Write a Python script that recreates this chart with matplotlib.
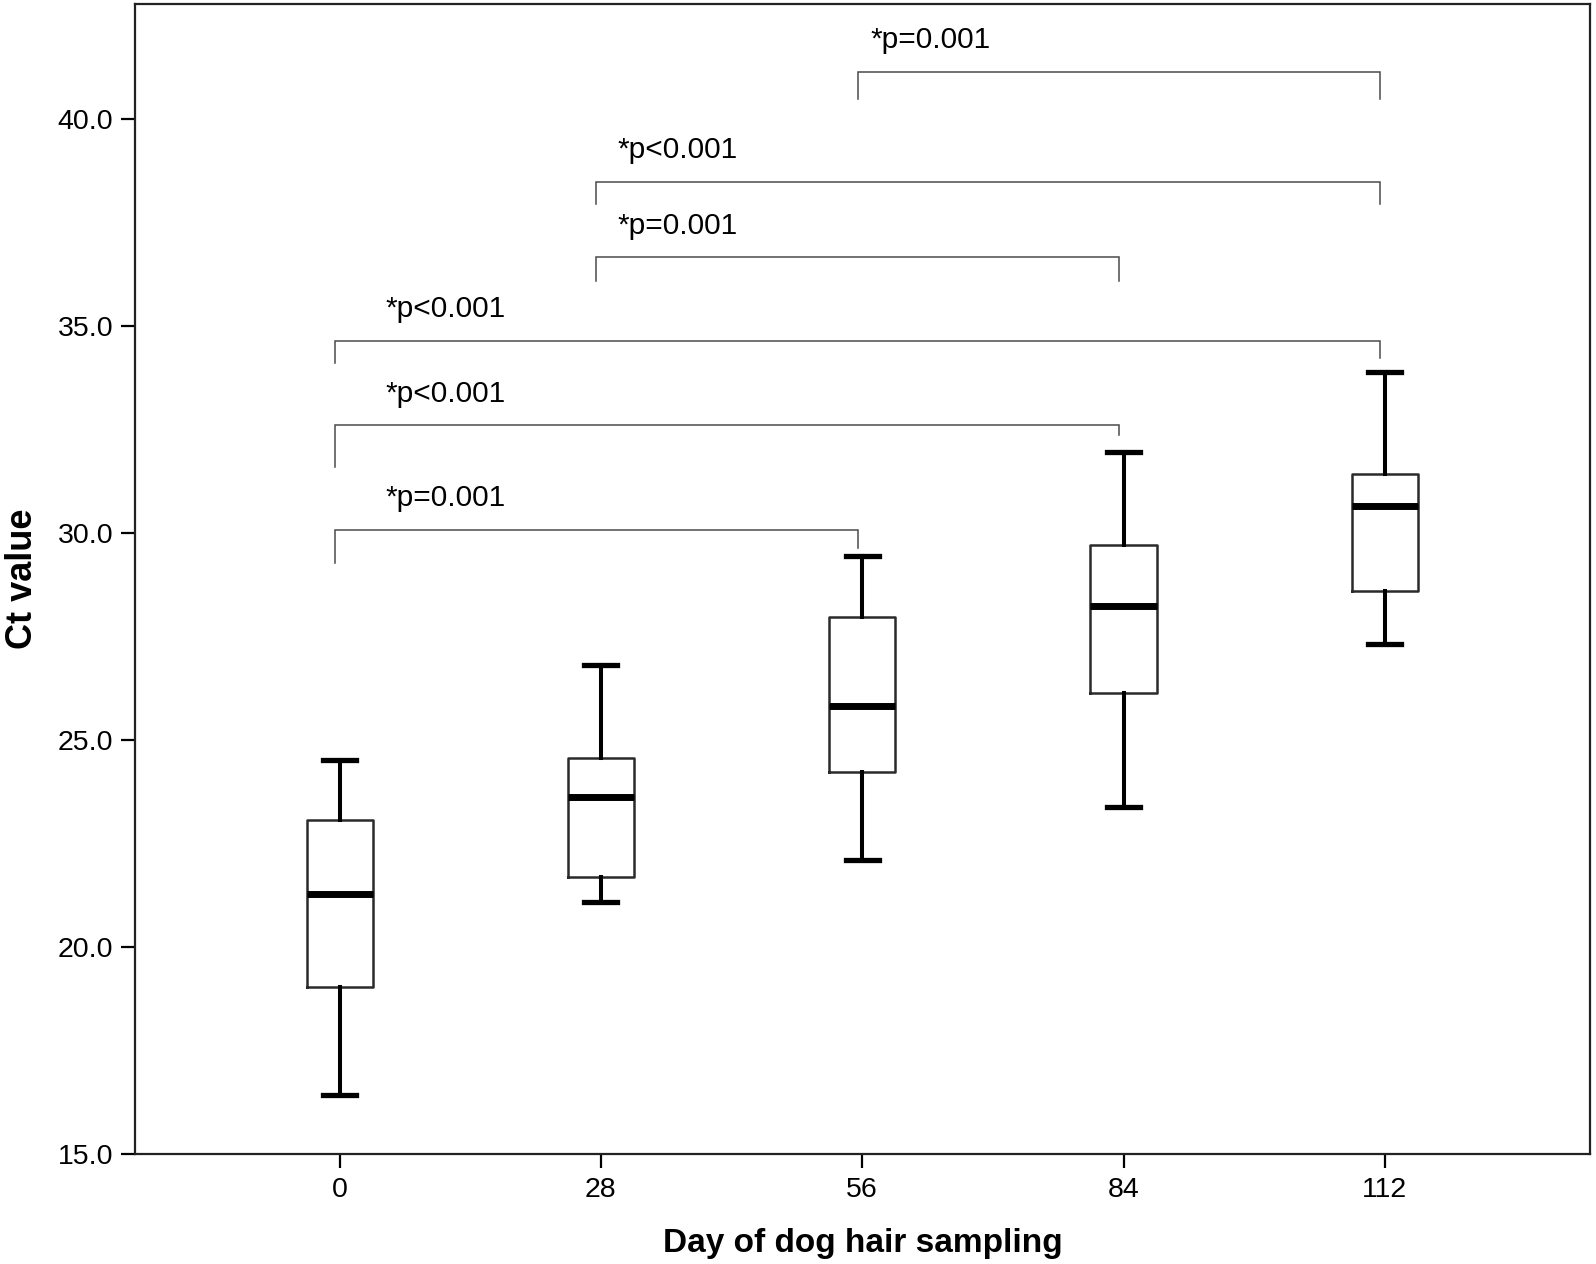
import matplotlib
matplotlib.use("Agg")
import matplotlib.pyplot as plt

# ---- data ----
days = ["0", "28", "56", "84", "112"]
whisker_low = [16.43, 21.10, 22.10, 23.38, 27.32]
q1 = [19.03, 21.69, 24.22, 26.14, 28.59]
median = [21.29, 23.63, 25.82, 28.23, 30.66]
q3 = [23.06, 24.56, 27.98, 29.72, 31.42]
whisker_high = [24.51, 26.82, 29.45, 31.96, 33.88]

# significance brackets: (group a, group b, bar height, left drop, right drop, label)
bracket_a = [0, 0, 0, 1, 1, 2]
bracket_b = [2, 3, 4, 3, 4, 4]
bracket_top = [30.07, 32.60, 34.64, 36.66, 38.48, 41.13]
bracket_left_end = [29.28, 31.59, 34.12, 36.09, 37.96, 40.49]
bracket_right_end = [29.63, 32.36, 34.22, 36.09, 37.96, 40.49]
bracket_labels = ["*p=0.001", "*p<0.001", "*p<0.001", "*p=0.001", "*p<0.001", "*p=0.001"]
label_shift = [0.195, 0.195, 0.195, 0.08, 0.08, 0.05]

plt.rcParams["font.family"] = ["Liberation Sans", "DejaVu Sans"]

fig = plt.figure(figsize=(15.96, 12.64), dpi=100)
ax = fig.add_axes([0.0846, 0.087, 0.9962 - 0.0846, 0.9968 - 0.087])

stats = []
for i in range(len(days)):
    stats.append(dict(whislo=whisker_low[i], q1=q1[i], med=median[i], q3=q3[i],
                      whishi=whisker_high[i], fliers=[], label=days[i]))

ax.bxp(stats, positions=range(len(days)), widths=0.253, showfliers=False,
       boxprops=dict(color="#2a2a2a", linewidth=1.8),
       medianprops=dict(color="black", linewidth=5.0, solid_capstyle="butt"),
       whiskerprops=dict(color="black", linewidth=2.9),
       capprops=dict(color="black", linewidth=3.8),
       capwidths=0.126)

off = -0.018
for a, b, top, le, re, lab, sh in zip(bracket_a, bracket_b, bracket_top, bracket_left_end,
                                      bracket_right_end, bracket_labels, label_shift):
    xa, xb = a + off, b + off
    ax.plot([xa, xa, xb, xb], [le, top, top, re], color="#4a4a4a", lw=1.1,
            solid_joinstyle="miter", zorder=3)
    ax.text(xa + sh, top + 0.77, lab, ha="left", va="center", fontsize=21.5,
            color="black")

ax.set_xlim(-0.783, 4.785)
ax.set_ylim(15.0, 42.78)
ax.set_yticks([15, 20, 25, 30, 35, 40])
ax.set_yticklabels(["15.0", "20.0", "25.0", "30.0", "35.0", "40.0"])
ax.set_xticks(range(len(days)))
ax.set_xticklabels(days)
ax.tick_params(axis="both", labelsize=20.5, length=10, width=1.6, colors="black")
ax.tick_params(axis="y", pad=5.5)
ax.tick_params(axis="x", pad=6.5)
for s in ax.spines.values():
    s.set_linewidth(1.6)
    s.set_color("#222222")

ax.set_xlabel("Day of dog hair sampling", fontsize=24, fontweight="bold", labelpad=18)
ax.set_ylabel("Ct value", fontsize=26, fontweight="bold")
ax.yaxis.set_label_coords(-0.0655, 0.5)

fig.savefig("out.png", dpi=100)
